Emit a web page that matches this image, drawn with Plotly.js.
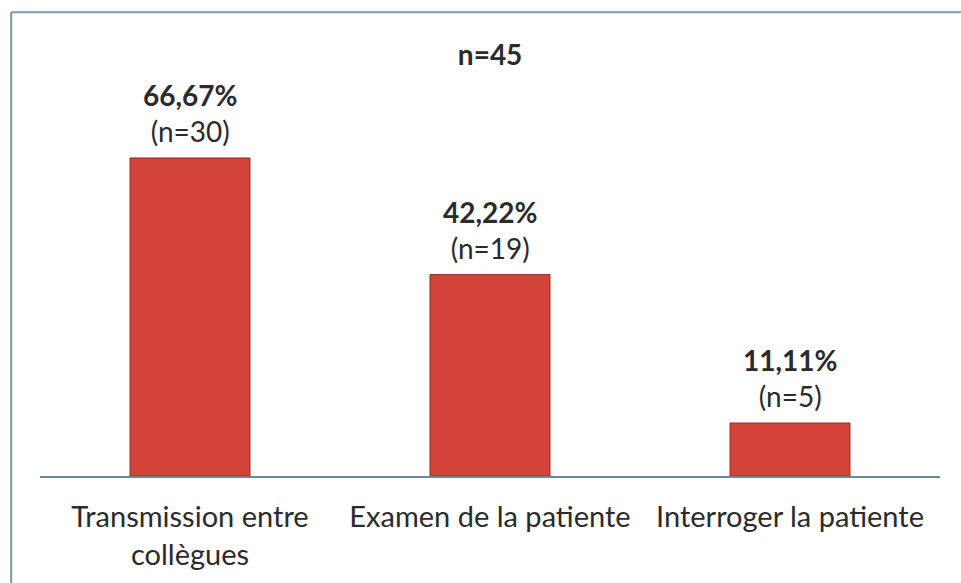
<!DOCTYPE html>
<html>
<head>
<meta charset="utf-8">
<script src="https://cdn.plot.ly/plotly-3.0.1.min.js"></script>
<style>
html,body{margin:0;padding:0;background:#fff;}
#chart{width:961px;height:583px;}
</style>
</head>
<body>
<div id="chart"></div>
<script>
const categories = ["Transmission entre<br>collègues", "Examen de la patiente", "Interroger la patiente"];
const percentages = [66.67, 42.22, 11.11];
const counts = [30, 19, 5];
const totalN = 45;

const fontFam = "Lato, 'Open Sans', sans-serif";
const textColor = "#2b2b2b";

function fmt(v){ return v.toFixed(2).replace('.', ','); }

const trace = {
  type: 'bar',
  x: categories,
  y: percentages,
  width: 0.4,
  marker: {color: '#d4433a', line: {color: '#8a2e28', width: 1}},
  hoverinfo: 'skip'
};

const annotations = categories.map((c, i) => ({
  x: c, y: percentages[i], xref: 'x', yref: 'y',
  text: '<b>' + fmt(percentages[i]) + '%</b><br>(n=' + counts[i] + ')',
  showarrow: false, yanchor: 'bottom', yshift: 8,
  font: {family: fontFam, size: 28, color: textColor}
}));

const layout = {
  width: 961, height: 583,
  margin: {l: 40, r: 21, t: 30, b: 107},
  paper_bgcolor: '#fff', plot_bgcolor: '#fff',
  title: {text: '<b>n=' + totalN + '</b>', x: 0.51, xanchor: 'center', y: 0.905, yanchor: 'middle',
          font: {family: fontFam, size: 28, color: textColor}},
  xaxis: {
    range: [-0.5, 2.5], showgrid: false, zeroline: false,
    showline: true, linecolor: '#6d8796', linewidth: 2,
    ticks: '', ticklabelstandoff: 14,
    tickfont: {family: fontFam, size: 29, color: textColor}
  },
  yaxis: {range: [0, 93.5], visible: false, showgrid: false, zeroline: false},
  annotations: annotations,
  shapes: [
    {type: 'line', xref: 'paper', yref: 'paper', x0: -0.032, x1: 1.03, y0: 1.04, y1: 1.04, line: {color: '#7b98a6', width: 2}},
    {type: 'line', xref: 'paper', yref: 'paper', x0: -0.032, x1: -0.032, y0: 1.04, y1: -0.25, line: {color: '#7b98a6', width: 2}}
  ],
  showlegend: false
};

Plotly.newPlot('chart', [trace], layout, {displayModeBar: false, staticPlot: true});
</script>
</body>
</html>
